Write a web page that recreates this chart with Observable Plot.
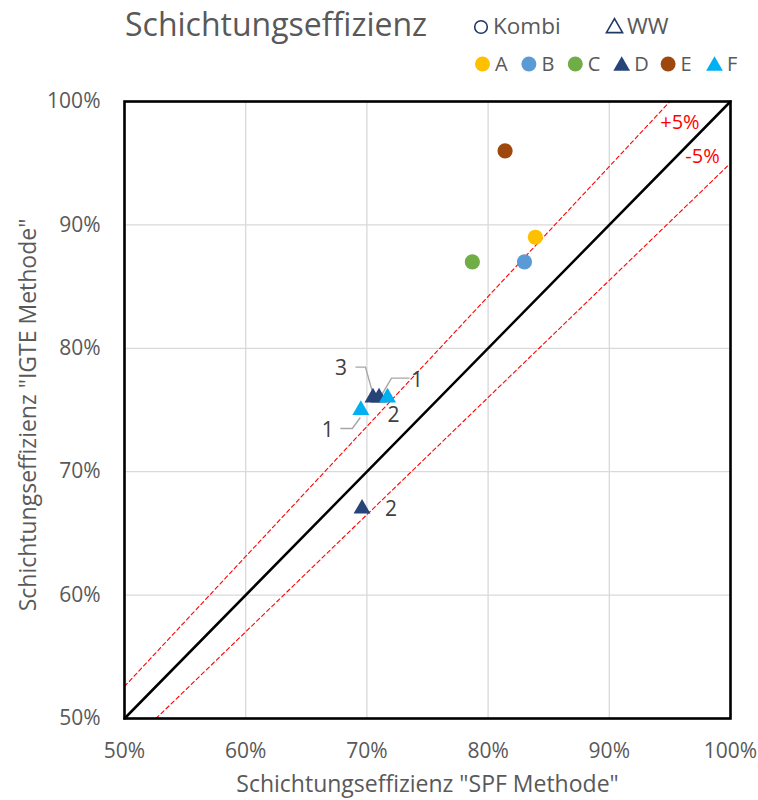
<!DOCTYPE html>
<html>
<head>
<meta charset="utf-8">
<script src="https://cdn.jsdelivr.net/npm/d3@7"></script>
<script src="https://cdn.jsdelivr.net/npm/@observablehq/plot@0.6"></script>
<style>
  body { margin: 0; background: white; font-family: "Open Sans", sans-serif; }
  #chart { width: 758px; }
  svg { display: block; }
</style>
</head>
<body>
<div id="chart"></div>
<script>
// ---------- data ----------
const series = ["A", "B", "C", "D", "E", "F"];
const seriesType = ["Kombi", "Kombi", "Kombi", "WW", "Kombi", "WW"];
const seriesColor = ["#FFC000", "#5B9BD5", "#70AD47", "#264478", "#9E480E", "#00B0F0"];
const typeNames = ["Kombi", "WW"];

const spfA = [83.9], igteA = [89], labA = [null];
const spfB = [83.0], igteB = [87], labB = [null];
const spfC = [78.7], igteC = [87], labC = [null];
const spfD = [69.6, 70.5, 71.0], igteD = [67, 76, 76], labD = ["2", "3", "1"];
const spfE = [81.4], igteE = [96], labE = [null];
const spfF = [69.5, 71.7], igteF = [75, 76], labF = ["1", "2"];

const ticks = [50, 60, 70, 80, 90, 100];
const refX = [50, 100], refY = [50, 100];            // y = x
const plusX = [50, 95], plusY = [52.6, 100];          // +5 %
const minusX = [52.6, 100], minusY = [50, 95];        // -5 %

const titleText = "Schichtungseffizienz";
const xTitle = "Schichtungseffizienz \"SPF Methode\"";
const yTitle = "Schichtungseffizienz \"IGTE Methode\"";

// ---------- build tables ----------
const seriesData = {
  A: [spfA, igteA, labA], B: [spfB, igteB, labB], C: [spfC, igteC, labC],
  D: [spfD, igteD, labD], E: [spfE, igteE, labE], F: [spfF, igteF, labF]
};
const rows = [];
series.forEach((s, si) => {
  const [xs, ys, ls] = seriesData[s];
  xs.forEach((x, i) => rows.push({series: s, type: seriesType[si], x, y: ys[i], label: ls[i], key: s + i}));
});
const toPts = (xs, ys) => xs.map((x, i) => ({x, y: ys[i]}));

// label styling (pixel offsets from point; leader polyline offsets)
const labelStyle = {
  D0: {dx: 29, dy: 1},
  D1: {dx: -32, dy: -29, leader: [[-17, -30], [-7, -30], [0, -5]]},
  D2: {dx: 38, dy: -17, leader: [[3, -2], [13, -19], [31, -19]]},
  F0: {dx: -33, dy: 20, leader: [[-20, 19], [-8, 19], [0, 8]]},
  F1: {dx: 6, dy: 18}
};

const gray = "#595959";

// ---------- header (title + legend) ----------
const header = d3.select("#chart").append("svg")
  .attr("width", 758).attr("height", 85)
  .style("font-family", "'Open Sans', sans-serif");
header.append("text").attr("x", 125).attr("y", 36)
  .attr("font-size", 32).attr("fill", gray).text(titleText);

const navy = "#203864";
// type legend
const typeX = [481, 614.5], typeTextX = [493, 627];
typeNames.forEach((t, i) => {
  const sym = t === "Kombi" ? d3.symbolCircle : d3.symbolTriangle;
  const size = t === "Kombi" ? Math.PI * 6.3 * 6.3 : Math.PI * 6 * 6;
  header.append("path").attr("d", d3.symbol(sym, size)())
    .attr("transform", `translate(${typeX[i]},${t === "Kombi" ? 27 : 28})`)
    .attr("fill", "white").attr("stroke", navy).attr("stroke-width", 1.6);
  header.append("text").attr("x", typeTextX[i]).attr("y", 34)
    .attr("font-size", 22.5).attr("fill", gray).text(t);
});
// series legend
series.forEach((s, i) => {
  const cx = 482.5 + i * 46.4;
  const isK = seriesType[i] === "Kombi";
  const sym = isK ? d3.symbolCircle : d3.symbolTriangle;
  const size = isK ? Math.PI * 7.5 * 7.5 : Math.PI * 6.2 * 6.2;
  header.append("path").attr("d", d3.symbol(sym, size)())
    .attr("transform", `translate(${cx},${isK ? 64 : 66})`)
    .attr("fill", seriesColor[i]);
  header.append("text").attr("x", cx + 12.5).attr("y", 71)
    .attr("font-size", 20).attr("fill", gray).text(s);
});

// ---------- leader lines (function mark) ----------
function leaders(index, scales) {
  const g = d3.create("svg:g");
  rows.forEach(d => {
    const st = labelStyle[d.key];
    if (!d.label || !st || !st.leader) return;
    const px = scales.x(d.x), py = scales.y(d.y);
    g.append("path")
      .attr("d", d3.line()(st.leader.map(([a, b]) => [px + a, py + b])))
      .attr("fill", "none").attr("stroke", "#a6a6a6").attr("stroke-width", 1.4);
  });
  return g.node();
}

const labelMarks = rows.filter(d => d.label).map(d => {
  const st = labelStyle[d.key] || {dx: 0, dy: 0};
  return Plot.text([d], {x: "x", y: "y", text: "label", dx: st.dx, dy: st.dy,
    fontSize: 21, fill: "#404040"});
});

const plot = Plot.plot({
  width: 758,
  height: 715,
  marginLeft: 124,
  marginRight: 28,
  marginTop: 16,
  marginBottom: 82,
  style: {fontFamily: "'Open Sans', sans-serif", fontSize: "21px", color: gray, background: "white"},
  x: {domain: [50, 100]},
  y: {domain: [50, 100]},
  color: {domain: series, range: seriesColor},
  marks: [
    Plot.gridX(ticks, {stroke: "#d9d9d9", strokeOpacity: 1, strokeWidth: 1.3}),
    Plot.gridY(ticks, {stroke: "#d9d9d9", strokeOpacity: 1, strokeWidth: 1.3}),
    Plot.axisX({ticks, tickFormat: d => d + "%", tickSize: 0, tickPadding: 25, label: null, fontSize: 21}),
    Plot.axisY({ticks, tickFormat: d => d + "%", tickSize: 0, tickPadding: 24, label: null, fontSize: 21}),
    Plot.line(toPts(plusX, plusY), {x: "x", y: "y", stroke: "#FF0000", strokeWidth: 1.1, strokeDasharray: "4,3"}),
    Plot.line(toPts(minusX, minusY), {x: "x", y: "y", stroke: "#FF0000", strokeWidth: 1.1, strokeDasharray: "4,3"}),
    Plot.line(toPts(refX, refY), {x: "x", y: "y", stroke: "black", strokeWidth: 2.5}),
    Plot.frame({stroke: "black", strokeWidth: 2.6}),
    Plot.text(toPts(plusX, plusY).slice(1), {x: "x", y: "y", text: () => "+5%", dx: 10, dy: 21, fill: "#FF0000", fontSize: 20}),
    Plot.text(toPts(minusX, minusY).slice(1), {x: "x", y: "y", text: () => "-5%", dx: -28, dy: -7, fill: "#FF0000", fontSize: 20}),
    leaders,
    Plot.dot(rows.filter(d => d.type === "Kombi"), {x: "x", y: "y", fill: "series", r: 7.6, symbol: "circle"}),
    Plot.dot(rows.filter(d => d.type === "WW"), {x: "x", y: "y", fill: "series", r: 6.3, symbol: "triangle"}),
    ...labelMarks,
    Plot.text([xTitle], {frameAnchor: "bottom", dy: 73, text: d => d, fontSize: 23, fill: gray}),
    Plot.text([yTitle], {frameAnchor: "left", dx: -96, dy: 5, rotate: -90, textAnchor: "middle", text: d => d, fontSize: 23, fill: gray})
  ]
});
document.getElementById("chart").appendChild(plot);
</script>
</body>
</html>
